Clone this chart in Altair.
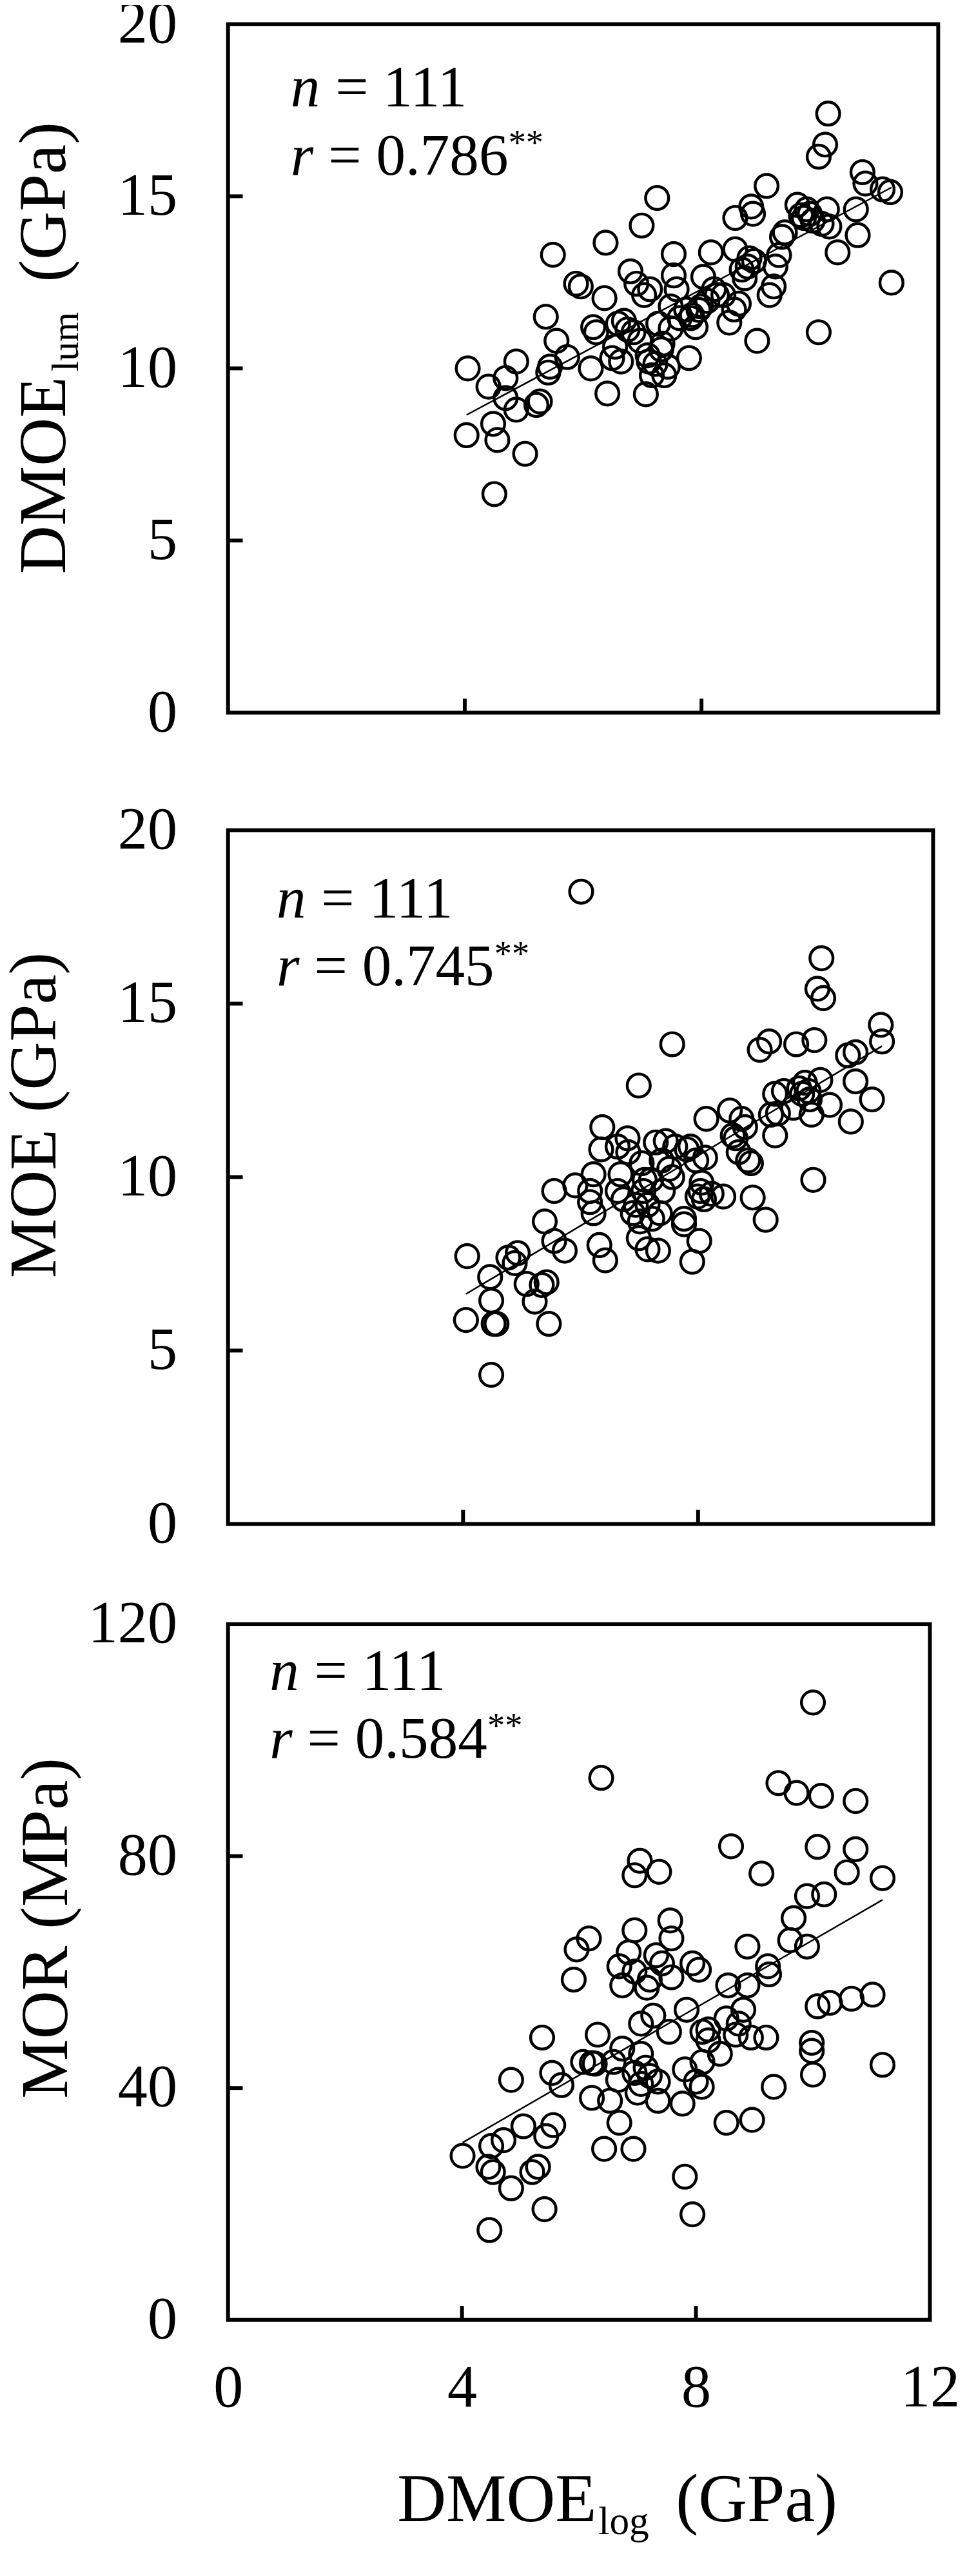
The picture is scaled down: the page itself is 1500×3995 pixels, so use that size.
import altair as alt
import pandas as pd

FONT = "Liberation Serif"

x_ticks = [0, 4, 8, 12]
x_inner_ticks = [4, 8]
y1_ticks = [0, 5, 10, 15, 20]
y2_ticks = [0, 5, 10, 15, 20]
y3_ticks = [0, 40, 80, 120]

# Panel 1: DMOE_log vs DMOE_lum (GPa)
x1 = [4.05, 4.03, 4.40, 4.48, 4.55, 4.50, 4.87, 4.69, 4.87, 5.02,
      5.21, 5.27, 5.41, 5.44, 5.37, 5.55, 5.49, 5.73, 5.88, 5.96,
      6.13, 6.17, 6.22, 6.36, 6.38, 6.41, 6.54, 6.64, 6.69, 6.75,
      6.80, 6.90, 6.96, 6.99, 7.06, 7.03, 7.11, 7.16, 7.22, 7.25,
      7.27, 7.32, 7.37, 7.43, 7.48, 7.53, 7.53, 7.58, 7.79, 7.82,
      7.90, 7.95, 8.03, 8.10, 8.16, 8.21, 8.37, 8.47, 8.57, 8.57,
      8.63, 8.73, 8.78, 8.84, 8.87, 8.94, 8.89, 9.10, 9.15, 9.22,
      9.31, 9.36, 9.62, 9.68, 9.73, 9.83, 9.88, 9.98, 9.98, 10.09,
      10.14, 10.12, 10.16, 10.30, 10.61, 10.64, 10.72, 10.77, 11.06, 11.19,
      11.21, 6.59, 6.85, 7.09, 7.13, 7.34, 7.63, 7.74, 7.84, 7.99,
      8.26, 8.55, 8.68, 8.81, 9.25, 9.41, 9.78, 10.03, 4.69, 6.49,
      7.48]
y1 = [10.0, 8.06, 9.47, 8.39, 7.92, 6.35, 10.2, 9.72, 8.8, 7.52,
      8.94, 9.04, 9.88, 10.05, 11.5, 10.8, 13.3, 10.33, 12.46, 12.38,
      10.0, 11.2, 11.05, 12.04, 13.65, 9.27, 10.63, 10.2, 11.38, 11.13,
      12.82, 12.46, 10.8, 14.15, 9.25, 12.13, 10.2, 9.8, 10.13, 14.95,
      11.3, 10.55, 9.8, 10.05, 11.8, 13.32, 12.7, 12.3, 10.3, 11.46,
      11.2, 11.7, 12.66, 11.96, 13.37, 12.3, 12.13, 11.33, 14.37, 13.46,
      11.88, 12.62, 12.96, 14.7, 14.49, 10.8, 13.12, 15.3, 12.13, 12.38,
      13.29, 13.82, 14.75, 14.45, 14.37, 14.49, 14.29, 11.05, 16.15, 16.5,
      17.4, 14.62, 14.12, 13.37, 14.62, 13.87, 15.7, 15.37, 15.2, 15.12,
      12.49, 11.3, 11.05, 10.38, 12.3, 10.72, 11.46, 11.71, 11.55, 11.8,
      12.13, 11.71, 12.87, 13.2, 12.96, 13.95, 14.62, 14.2, 9.14, 10.3,
      11.16]

# Panel 2: DMOE_log vs MOE (GPa)
x2 = [6.01, 4.07, 4.05, 4.46, 4.48, 4.52, 4.57, 4.48, 4.77, 4.93,
      4.88, 5.08, 5.22, 5.34, 5.42, 5.46, 5.39, 5.55, 5.55, 5.73,
      5.91, 6.16, 6.22, 6.22, 6.32, 6.42, 6.37, 6.35, 6.63, 6.68,
      6.73, 6.80, 6.89, 6.99, 6.99, 7.04, 7.07, 7.14, 7.20, 7.28,
      7.32, 7.35, 7.40, 7.45, 7.51, 7.56, 7.61, 7.76, 7.81, 7.90,
      7.97, 8.02, 8.04, 8.10, 8.12, 8.14, 8.23, 8.43, 8.54, 8.59,
      8.69, 8.74, 8.85, 8.93, 9.05, 9.21, 9.15, 9.24, 9.31, 9.31,
      9.46, 9.62, 9.67, 9.72, 9.82, 9.90, 9.93, 9.96, 9.98, 10.08,
      10.10, 10.03, 10.13, 10.24, 10.55, 10.68, 10.60, 10.68, 10.96, 11.11,
      11.13, 6.63, 6.94, 7.01, 7.09, 7.22, 7.38, 7.56, 7.76, 7.99,
      8.06, 8.64, 8.80, 8.90, 9.36, 9.77, 9.88, 7.87, 6.16, 6.81,
      7.14]
y2 = [18.23, 7.72, 5.88, 7.12, 6.44, 5.77, 5.77, 4.30, 7.68, 7.81,
      7.52, 6.92, 6.41, 6.89, 6.97, 5.77, 8.72, 8.16, 9.6, 7.88,
      9.76, 9.6, 10.08, 8.96, 8.04, 7.6, 11.44, 10.8, 10.88, 10.08,
      9.36, 11.12, 8.96, 12.64, 8.24, 10.4, 9.6, 9.2, 9.92, 11.0,
      7.88, 8.96, 9.6, 11.04, 10.24, 13.83, 10.88, 8.64, 10.8, 7.56,
      10.48, 8.16, 9.6, 9.36, 10.56, 11.68, 9.52, 9.44, 11.92, 11.2,
      10.72, 11.68, 10.48, 9.41, 13.67, 13.91, 8.77, 11.8, 11.2, 12.4,
      12.48, 12.0, 13.83, 12.56, 12.72, 12.24, 11.8, 9.92, 13.95, 12.8,
      16.31, 15.43, 15.16, 12.08, 13.51, 13.6, 11.6, 12.76, 12.24, 14.39,
      13.91, 9.6, 9.2, 8.72, 9.92, 8.8, 10.48, 10.0, 8.8, 9.44,
      9.84, 11.12, 11.44, 10.4, 11.84, 12.4, 12.48, 10.88, 9.28, 10.72,
      7.92]

# Panel 3: DMOE_log vs MOR (MPa)
x3 = [10.0, 6.38, 9.41, 9.72, 10.14, 10.73, 8.60, 10.08, 10.73, 7.04,
      6.95, 7.37, 9.12, 10.58, 11.19, 9.90, 10.19, 9.67, 7.56, 7.58,
      6.95, 9.61, 9.90, 8.88, 6.17, 5.96, 6.85, 7.32, 6.69, 7.42,
      7.94, 8.05, 9.23, 9.25, 6.95, 7.21, 7.58, 5.91, 6.74, 7.16,
      8.55, 8.88, 7.84, 8.81, 10.08, 10.29, 10.66, 11.02, 7.27, 7.06,
      8.52, 8.73, 7.54, 8.11, 8.68, 8.94, 9.20, 5.37, 6.32, 8.21,
      6.74, 7.06, 8.41, 9.98, 6.07, 6.27, 6.59, 7.14, 8.11, 7.81,
      6.95, 7.21, 5.54, 10.0, 11.19, 4.84, 5.70, 7.35, 8.0, 8.10,
      7.0, 9.33, 6.22, 6.53, 7.35, 7.77, 6.69, 8.52, 8.96, 5.05,
      5.56, 5.44, 4.71, 4.50, 4.01, 6.43, 6.93, 4.45, 4.53, 5.20,
      5.30, 7.81, 4.84, 5.41, 7.94, 4.47, 9.98, 6.22, 6.67, 8.21,
      7.06]
y3 = [106.5, 93.5, 92.6, 90.9, 90.4, 89.5, 81.7, 81.6, 81.2, 79.2,
      76.7, 77.3, 77.0, 77.2, 76.2, 73.1, 73.4, 69.3, 68.9, 65.8,
      67.2, 65.5, 64.4, 64.4, 65.8, 63.9, 63.4, 62.9, 61.0, 61.5,
      61.5, 60.4, 61.0, 59.6, 60.1, 58.7, 59.1, 58.7, 57.7, 57.3,
      57.7, 57.7, 53.5, 53.5, 54.1, 54.7, 55.4, 56.1, 52.5, 51.1,
      52.0, 51.1, 49.7, 49.7, 49.2, 48.7, 48.7, 48.7, 49.2, 48.2,
      46.8, 45.9, 45.9, 46.4, 44.5, 44.2, 44.5, 43.5, 44.5, 43.2,
      42.6, 42.1, 42.6, 42.3, 44.0, 41.4, 40.5, 41.1, 41.1, 40.2,
      39.2, 40.2, 38.3, 37.8, 37.8, 37.3, 34.0, 34.0, 34.5, 33.4,
      33.6, 31.7, 31.0, 30.0, 28.3, 29.5, 29.5, 26.4, 25.5, 25.5,
      26.4, 24.7, 22.7, 19.1, 18.2, 15.5, 47.8, 44.3, 41.4, 50.1,
      40.7]

r_labels = ["= 0.786", "= 0.745", "= 0.584"]
n_label = "= 111"

LEFT = 352  # common plot-area left edge (page px)


def txt(s, x, y, size, style="normal", angle=0, align="left", baseline="alphabetic"):
    return alt.Chart(pd.DataFrame({"s": [s]})).mark_text(
        font=FONT, fontSize=size, fontStyle=style, angle=angle, align=align,
        baseline=baseline, color="black"
    ).encode(text="s:N", x=alt.value(x), y=alt.value(y))


def annot(ax, ny, ry, rtext):
    return [
        txt("n", ax, ny, 92, "italic"),
        txt(n_label, ax + 70, ny, 92),
        txt("r", ax, ry, 92, "italic"),
        txt(rtext, ax + 59, ry, 92),
        txt("**", ax + 341, ry - 32, 55),
    ]


def panel(xs, ys, ydom, yticks, W, H, show_x, texts):
    df = pd.DataFrame({"x": xs, "y": ys})
    xsc = alt.Scale(domain=[0, 12], nice=False, zero=False)
    ysc = alt.Scale(domain=ydom, nice=False)
    if show_x:
        xaxis = alt.Axis(values=x_ticks, ticks=False, domain=False, grid=False,
                         labelFont=FONT, labelFontSize=93, labelColor="black",
                         labelPadding=62, labelFlush=False, labelOverlap=False,
                         title=None)
    else:
        xaxis = None
    yaxis = alt.Axis(values=yticks, ticks=False, domain=False, grid=False,
                     labelFont=FONT, labelFontSize=93, labelColor="black",
                     labelPadding=80, labelFlush=False, labelOverlap=False,
                     title=None)

    def X():
        return alt.X("x:Q", scale=xsc, axis=xaxis)

    def Y():
        return alt.Y("y:Q", scale=ysc, axis=yaxis)

    pts = alt.Chart(df).mark_point(
        shape="circle", filled=False, color="black", strokeWidth=4.5,
        size=1300, opacity=1
    ).encode(x=X(), y=Y())
    line = alt.Chart(df).transform_regression("x", "y").mark_line(
        color="black", strokeWidth=2.5
    ).encode(x=X(), y=Y())
    ytk = alt.Chart(pd.DataFrame({"y": yticks[1:-1]})).mark_rule(
        color="black", strokeWidth=6
    ).encode(y=Y(), x=alt.value(0), x2=alt.value(23))
    xtk = alt.Chart(pd.DataFrame({"x": x_inner_ticks})).mark_rule(
        color="black", strokeWidth=6
    ).encode(x=X(), y=alt.value(H), y2=alt.value(H - 22))
    marker = alt.Chart(pd.DataFrame({"m": [0]})).mark_rule(
        color="white", strokeWidth=1
    ).encode(x=alt.value(-LEFT), x2=alt.value(-LEFT + 2),
             y=alt.value(H / 2), y2=alt.value(H / 2 + 1))
    return alt.layer(pts, line, ytk, xtk, marker, *texts).properties(width=W, height=H)


p1_texts = [
    txt("DMOE", -255, 861, 105, angle=270),
    txt("lum", -235, 544, 60, angle=270),
    txt("(GPa)", -255, 404, 105, angle=270),
] + annot(98, 129, 236, r_labels[0])

p2_texts = [
    txt("MOE (GPa)", -270, 191, 105, angle=270, align="right"),
] + annot(76, 137, 243, r_labels[1])

p3_texts = [
    txt("MOR (MPa)", -252, 209, 105, angle=270, align="right"),
    txt("DMOE", 265, 1404, 106),
    txt("log", 580, 1424, 62),
    txt("(GPa)", 701, 1404, 106),
] + annot(65, 103, 209, r_labels[2])

p1 = panel(x1, y1, [0, 20], y1_ticks, 1112, 1078, False, p1_texts)
p2 = panel(x2, y2, [0, 20], y2_ticks, 1104, 1086, False, p2_texts)
p3 = panel(x3, y3, [0, 120], y3_ticks, 1099, 1089, True, p3_texts)

top = alt.vconcat(p1, p2, spacing=85)
chart = alt.vconcat(top, p3, spacing=58).properties(
    padding={"left": -8, "top": -38, "right": 0, "bottom": 0},
    background="white",
).configure_view(stroke="black", strokeWidth=6)

chart.save("out.html", embed_options={"renderer": "svg", "actions": False})
